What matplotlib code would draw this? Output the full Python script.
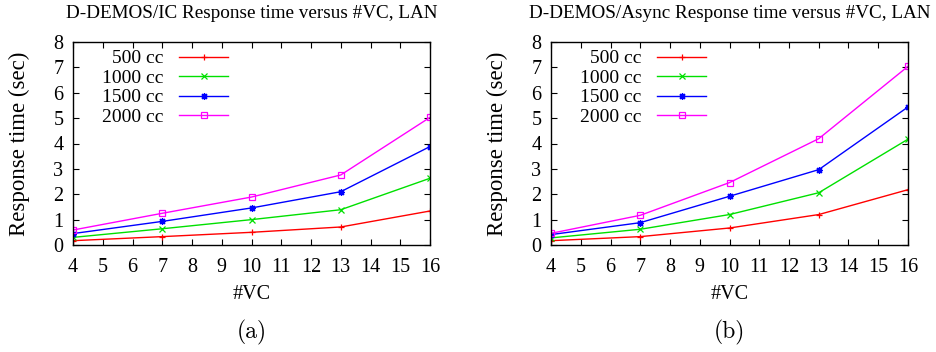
import matplotlib
matplotlib.use("Agg")
import matplotlib.pyplot as plt

vc = [4, 7, 10, 13, 16]
series_labels = ["500 cc", "1000 cc", "1500 cc", "2000 cc"]
ic_500 = [0.17, 0.33, 0.50, 0.71, 1.34]
ic_1000 = [0.30, 0.64, 1.00, 1.39, 2.63]
ic_1500 = [0.45, 0.93, 1.46, 2.10, 3.88]
ic_2000 = [0.59, 1.25, 1.89, 2.76, 5.03]
as_500 = [0.17, 0.33, 0.67, 1.20, 2.18]
as_1000 = [0.28, 0.62, 1.20, 2.06, 4.17]
as_1500 = [0.41, 0.88, 1.92, 2.97, 5.44]
as_2000 = [0.46, 1.17, 2.46, 4.19, 7.04]
titles = ["D-DEMOS/IC Response time versus #VC, LAN",
          "D-DEMOS/Async Response time versus #VC, LAN"]
captions = ["(a)", "(b)"]
xticks = list(range(4, 17))
yticks = list(range(0, 9))

colors = ["#ff0000", "#00e000", "#0000ff", "#ff00ff"]
markers = ["+", "x", (8, 2, 0), "s"]
msizes = [5, 4.5, 5, 4]

plt.rcParams['font.family'] = ['Liberation Serif', 'DejaVu Serif']
cm = ['cmr10', 'DejaVu Serif']

fig = plt.figure(figsize=(9.37, 3.52), dpi=100)
lefts = [73 / 937, 551 / 937]
data = [[ic_500, ic_1000, ic_1500, ic_2000], [as_500, as_1000, as_1500, as_2000]]

for i in range(2):
    ax = fig.add_axes([lefts[i], 1 - 245 / 352, 357 / 937, 203 / 352])
    for j, ys in enumerate(data[i]):
        mfc = "none" if markers[j] == "s" else colors[j]
        ax.plot(vc, ys, color=colors[j], lw=1.0, marker=markers[j],
                markersize=msizes[j], markeredgewidth=0.9,
                markerfacecolor=mfc, label=series_labels[j])
    ax.set_xlim(4, 16)
    ax.set_ylim(0, 8)
    ax.set_xticks(xticks)
    ax.set_yticks(yticks)
    ax.tick_params(direction="in", top=True, right=True, length=4, labelsize=14.5, width=0.8)
    ax.tick_params(axis="x", pad=9)
    ax.tick_params(axis="y", pad=7)
    for s in ax.spines.values():
        s.set_linewidth(1.0)
    ax.set_ylabel("Response time (sec)", fontsize=16.5, labelpad=17)
    ax.set_xlabel("#VC", fontsize=14.5, labelpad=6)
    leg = ax.legend(loc="upper right", bbox_to_anchor=(0.457, 1.0), frameon=False,
                    markerfirst=False, fontsize=14, handlelength=2.55,
                    labelspacing=0.1, handletextpad=0.8, borderaxespad=0.2,
                    borderpad=0.2)
    cx = lefts[i] + 357 / 937 / 2
    fig.text(cx, 1 - 13 / 352, titles[i], ha="center", va="center", fontsize=13.75)
    fig.text(cx, 1 - 332 / 352, captions[i], ha="center", va="center", fontsize=17, family=cm)

fig.savefig("out.png", dpi=100)
